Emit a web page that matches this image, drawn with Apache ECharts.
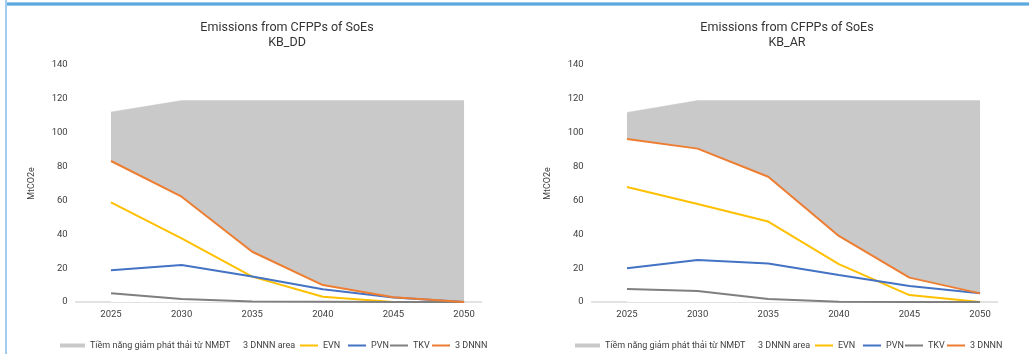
<!DOCTYPE html>
<html>
<head>
<meta charset="utf-8">
<script src="https://cdn.jsdelivr.net/npm/echarts@6/dist/echarts.min.js"></script>
<style>
html,body{margin:0;padding:0;background:#fff;}
#wrap{position:relative;width:1029px;height:354px;overflow:hidden;}
#chart{position:absolute;left:0;top:0;width:1029px;height:354px;}
#topbar{position:absolute;left:7px;top:2px;width:1022px;height:4px;background:linear-gradient(#c4e0f4,#5aa9df 30%,#5aa9df 70%,#c4e0f4);}
#leftbar{position:absolute;left:5px;top:0;width:2px;height:354px;background:#a3cdee;}
</style>
</head>
<body>
<div id="wrap">
<div id="chart"></div>
<div id="topbar"></div>
<div id="leftbar"></div>
</div>
<script>
// ---- data ----
const years = [2025, 2030, 2035, 2040, 2045, 2050];
const xTickLabels = ['2025', '2030', '2035', '2040', '2045', '2050'];
const yTicks = [0, 20, 40, 60, 80, 100, 120, 140];
const titles = ['Emissions from CFPPs of SoEs\nKB_DD', 'Emissions from CFPPs of SoEs\nKB_AR'];
const seriesNames = ['Tiềm năng giảm phát thải từ NMĐT', '3 DNNN area', 'EVN', 'PVN', 'TKV', '3 DNNN'];

// KB_DD  (upper edge of the grey band = 3 DNNN + reduction potential)
const ddTop = [112.2, 119.0, 119.0, 119.0, 119.0, 119.0];
const ddDNNN = [83.3, 62.2, 29.7, 10.0, 2.8, 0.0];
const ddEVN = [58.9, 37.6, 15.0, 3.1, 0.0, 0.0];
const ddPVN = [18.7, 21.9, 15.0, 7.5, 2.6, 0.0];
const ddTKV = [5.1, 1.8, 0.3, 0.2, 0.0, 0.0];

// KB_AR
const arTop = [112.0, 119.0, 119.0, 119.0, 119.0, 119.0];
const arDNNN = [96.3, 90.6, 74.0, 39.0, 14.4, 5.1];
const arEVN = [67.9, 57.9, 47.5, 22.4, 4.1, 0.0];
const arPVN = [19.9, 24.8, 22.8, 15.9, 9.5, 5.1];
const arTKV = [7.7, 6.5, 1.8, 0.2, 0.0, 0.0];

// ---- styles ----
const COLORS = { area: '#c9c9c9', EVN: '#ffc000', PVN: '#4472c4', TKV: '#7f7f7f', DNNN: '#ed7d31' };
const FONT = 'Roboto, "Noto Sans", sans-serif';
const pairs = arr => years.map((y, i) => [y, arr[i]]);

const panels = [
  { top: ddTop, dnnn: ddDNNN, evn: ddEVN, pvn: ddPVN, tkv: ddTKV, left: 75.7, titleX: 287, legendX: 60 },
  { top: arTop, dnnn: arDNNN, evn: arEVN, pvn: arPVN, tkv: arTKV, left: 591.7, titleX: 787, legendX: 575 }
];

const grid = [], xAxis = [], yAxis = [], series = [], legend = [], graphic = [];
const ltext = { fontSize: 9, color: '#404040', fontFamily: FONT };

panels.forEach((p, k) => {
  grid.push({ left: p.left, top: 65, width: 406, height: 237 });
  xAxis.push({
    type: 'value', gridIndex: k, min: 2022.5, max: 2051.25, interval: 2.5,
    axisLine: { show: true, lineStyle: { color: '#d9d9d9', width: 1.5 } },
    axisTick: { show: false }, splitLine: { show: false },
    axisLabel: {
      margin: 8, fontSize: 9.5, color: '#404040', fontFamily: FONT,
      showMinLabel: false, showMaxLabel: false,
      formatter: v => { const i = years.indexOf(v); return i >= 0 ? xTickLabels[i] : ''; }
    }
  });
  yAxis.push({
    type: 'value', gridIndex: k, min: yTicks[0], max: yTicks[yTicks.length - 1], interval: 20,
    name: 'MtCO2e', nameLocation: 'middle', nameGap: 39, nameRotate: 90,
    nameTextStyle: { fontSize: 9, color: '#404040', fontFamily: FONT },
    axisLine: { show: false }, axisTick: { show: false }, splitLine: { show: false },
    axisLabel: { margin: 8, fontSize: 9.5, color: '#404040', fontFamily: FONT }
  });
  const common = { xAxisIndex: k, yAxisIndex: k, type: 'line', symbol: 'none', animation: false };
  // grey band: fill up to the top edge, then white fill below the 3 DNNN line
  series.push(Object.assign({}, common, {
    name: seriesNames[0], data: pairs(p.top),
    lineStyle: { width: 0.5, color: COLORS.area }, itemStyle: { color: COLORS.area },
    areaStyle: { color: COLORS.area, opacity: 1 }, z: 1
  }));
  series.push(Object.assign({}, common, {
    name: seriesNames[1], data: pairs(p.dnnn),
    lineStyle: { width: 0.5, color: '#ffffff' }, itemStyle: { color: '#ffffff' },
    areaStyle: { color: '#ffffff', opacity: 1 }, z: 2
  }));
  [[seriesNames[2], p.evn, COLORS.EVN], [seriesNames[3], p.pvn, COLORS.PVN],
   [seriesNames[4], p.tkv, COLORS.TKV], [seriesNames[5], p.dnnn, COLORS.DNNN]].forEach(([n, d, c]) => {
    series.push(Object.assign({}, common, {
      name: n, data: pairs(d), lineStyle: { width: 2, color: c }, itemStyle: { color: c }, z: 3
    }));
  });

  // legend entries, one small legend per entry so each sits where the reference puts it
  const L = p.legendX;
  const entries = [
    { name: seriesNames[0], left: L, w: 25, h: 4, color: COLORS.area },
    { name: seriesNames[1], left: L + 178, w: 0, h: 4, color: 'rgba(0,0,0,0)' },
    { name: seriesNames[2], left: L + 240, w: 18, h: 2, color: COLORS.EVN },
    { name: seriesNames[3], left: L + 288, w: 18, h: 2, color: COLORS.PVN },
    { name: seriesNames[4], left: L + 330, w: 18, h: 2, color: COLORS.TKV },
    { name: seriesNames[5], left: L + 372, w: 18, h: 2, color: COLORS.DNNN }
  ];
  entries.forEach(e => {
    legend.push({
      left: e.left, top: 341, padding: 0, itemWidth: e.w, itemHeight: e.h, textStyle: ltext, selectedMode: false,
      data: [{ name: e.name, icon: 'rect', itemStyle: { color: e.color, borderWidth: 0 } }]
    });
  });

  graphic.push({
    type: 'text', x: p.titleX, y: 20,
    style: { text: titles[k], align: 'center', verticalAlign: 'top', fontSize: 12.5, lineHeight: 15,
             fill: '#333333', fontFamily: FONT }
  });
});

const chart = echarts.init(document.getElementById('chart'), null, { renderer: 'canvas' });
chart.setOption({ animation: false, backgroundColor: '#ffffff', grid, xAxis, yAxis, series, legend, graphic });
</script>
</body>
</html>
